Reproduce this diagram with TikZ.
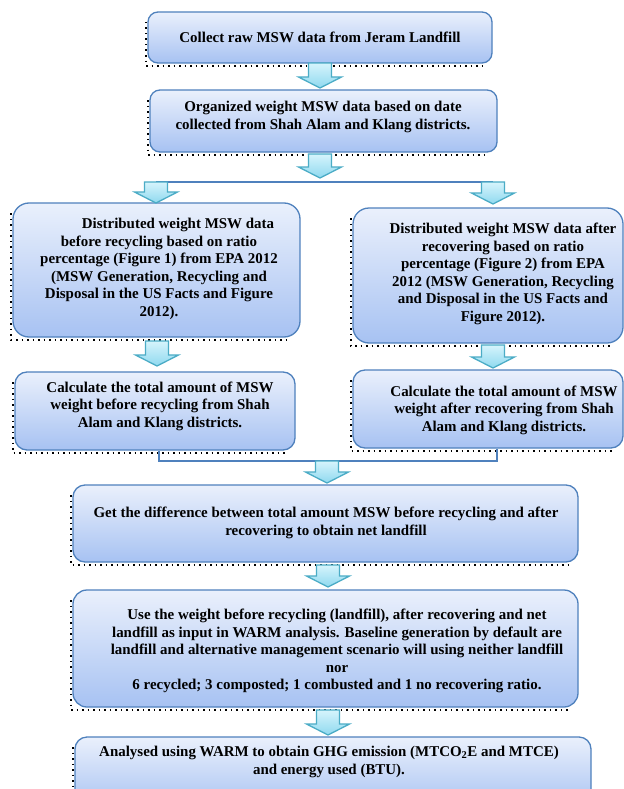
\documentclass[tikz,border=0pt]{standalone}
\usepackage{fontspec}
\setmainfont{Liberation Serif}[BoldFont={Liberation Serif Bold}]
\usetikzlibrary{calc}
\definecolor{boxborder}{HTML}{4F81BD}
\definecolor{boxtop}{HTML}{EAF0FC}
\definecolor{boxbot}{HTML}{A7C2F2}
\definecolor{arrborder}{HTML}{4BACC6}
\definecolor{arrtop}{HTML}{D6F4FC}
\definecolor{arrbot}{HTML}{8FD9EF}
\tikzset{
  box/.style={draw=boxborder, line width=1.3bp, top color=boxtop, bottom color=boxbot, inner sep=0pt},
  txt/.style={font=\fontsize{15}{17.6}\selectfont\bfseries, align=center, inner sep=0pt, text=black},
  shadowline/.style={draw=black, line width=1.1bp, dash pattern=on 1.5bp off 4bp},
  blockarrow/.style={draw=arrborder, line width=1.3bp, top color=arrtop, bottom color=arrbot, line join=miter},
  joinline/.style={draw=boxborder, line width=1.3bp},
}
\newcommand\mkbox[6]{%
  \draw[shadowline] (#2-2,#3+10) -- (#2-2,#5+3) -- (#4-10,#5+3);
  \node[box, rounded corners=#6bp, minimum width={(#4-#2)*1bp}, minimum height={(#5-#3)*1bp}] (#1) at ({(#2+#4)/2},{(#3+#5)/2}) {};
}
\newcommand\flowarrow[2]{%
  \draw[blockarrow] let \p1=(#1), \p2=(#2) in
    (\x1-11.5bp,\y1) -- (\x1+11.5bp,\y1) -- (\x1+11.5bp,\y2+11bp) -- (\x1+21.5bp,\y2+11bp)
    -- (\x1,\y2) -- (\x1-21.5bp,\y2+11bp) -- (\x1-11.5bp,\y2+11bp) -- cycle;
}
\begin{document}
\begin{tikzpicture}[x=1bp,y=-1bp]
\useasboundingbox (0,0) rectangle (624,789);
\fill[white] (0,0) rectangle (624,789);
\clip (0,0) rectangle (624,789);

% boxes
\mkbox{b1}{148}{12}{492}{63}{10}
\mkbox{b2}{150}{90}{497}{152}{10}
\mkbox{b3l}{13}{203}{300}{337}{16}
\mkbox{b3r}{353}{208}{623}{343}{16}
\mkbox{b4l}{15}{372}{295}{450}{12}
\mkbox{b4r}{353}{370}{623}{448}{12}
\mkbox{b5}{73}{485}{578}{562}{12}
\mkbox{b6}{73}{590}{578}{707}{14}
\mkbox{b7}{75}{737}{591}{810}{12}

% texts
\node[txt] (t1) at (320,37) {Collect raw MSW data from Jeram Landfill};
\node[txt] (t2) at (323,117) {Organized weight MSW data based on date\\collected from Shah Alam and Klang districts.};
\node[txt] (t3l) at (159,269) {\hspace*{38bp}Distributed weight MSW data\\before recycling based on ratio\\percentage (Figure 1) from EPA 2012\\(MSW Generation, Recycling and\\Disposal in the US Facts and Figure\\2012).};
\node[txt] (t3r) at (503,274) {Distributed weight MSW data after\\recovering based on ratio\\percentage (Figure 2) from EPA\\2012 (MSW Generation, Recycling\\and Disposal in the US Facts and\\Figure 2012).};
\node[txt] (t4l) at (160,406) {Calculate the total amount of MSW\\weight before recycling from Shah\\Alam and Klang districts.};
\node[txt] (t4r) at (504,410) {Calculate the total amount of MSW\\weight after recovering from Shah\\Alam and Klang districts.};
\node[txt] (t5) at (326,523) {Get the difference between total amount MSW before recycling and after\\recovering to obtain net landfill};
\node[txt] (t6) at (337,651) {Use the weight before recycling (landfill), after recovering and net\\landfill as input in WARM analysis. Baseline generation by default are\\landfill and alternative management scenario will using neither landfill\\nor\\6 recycled; 3 composted; 1 combusted and 1 no recovering ratio.};
\node[txt] (t7) at (329,762) {Analysed using WARM to obtain GHG emission (MTCO\textsubscript{2}E and MTCE)\\and energy used (BTU).};

% connector lines
\coordinate (splitl) at (156,182);
\coordinate (splitr) at (493,182);
\draw[joinline] (splitl) -- (splitr);
\coordinate (joinl) at (159,461);
\coordinate (joinr) at (497,461);
\draw[joinline] (b4l.south -| joinl) -- (joinl) -- (joinr) -- (b4r.south -| joinr);

% block arrows
\coordinate (a1s) at (320,63);  \coordinate (a1e) at (320,88);
\coordinate (a2s) at (320,154); \coordinate (a2e) at (320,178);
\coordinate (a3le) at (156,203);
\coordinate (a3re) at (493,204);
\coordinate (a4ls) at (157,341); \coordinate (a4le) at (157,366);
\coordinate (a4rs) at (493,345); \coordinate (a4re) at (493,368);
\coordinate (a5s) at (327,461); \coordinate (a5e) at (327,483);
\coordinate (a6s) at (328,565); \coordinate (a6e) at (328,587);
\coordinate (a7s) at (328,710); \coordinate (a7e) at (328,735);
\flowarrow{a1s}{a1e}
\flowarrow{a2s}{a2e}
\flowarrow{splitl}{a3le}
\flowarrow{splitr}{a3re}
\flowarrow{a4ls}{a4le}
\flowarrow{a4rs}{a4re}
\flowarrow{a5s}{a5e}
\flowarrow{a6s}{a6e}
\flowarrow{a7s}{a7e}
\end{tikzpicture}
\end{document}
